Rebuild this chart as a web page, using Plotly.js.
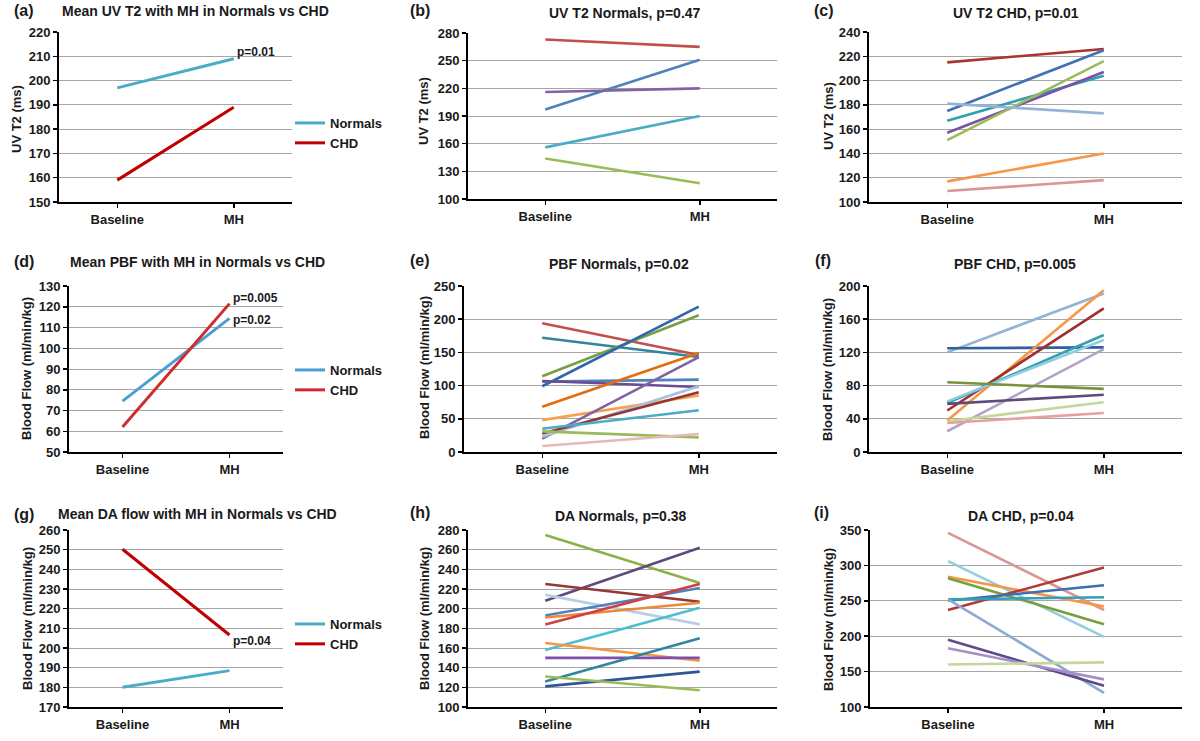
<!DOCTYPE html>
<html>
<head>
<meta charset="utf-8">
<script src="https://cdn.plot.ly/plotly-3.0.1.min.js"></script>
<style>html,body{margin:0;padding:0;background:#fff;}#chart{width:1200px;height:741px;}</style>
</head>
<body>
<div id="chart"></div>
<script>
// ---------- data ----------
const categories = ['Baseline', 'MH'];

// (a) Mean UV T2 (ms)
const aNormals = [197, 209];
const aCHD = [159, 189];
// (d) Mean PBF (ml/min/kg)
const dNormals = [74.5, 114.4];
const dCHD = [62, 121.5];
// (g) Mean DA flow (ml/min/kg)
const gNormals = [180, 188.5];
const gCHD = [250.2, 206.6];

// (b) UV T2 Normals
const bBaseline = [273, 197, 216, 156, 144];
const bMH       = [265, 251, 220, 190, 117];
// (c) UV T2 CHD
const cBaseline = [215, 175, 167, 157, 151, 181, 117, 109];
const cMH       = [226, 225, 204, 207, 216, 173, 140, 118];
// (e) PBF Normals
const eBaseline = [194, 172, 114, 99, 106, 107, 68, 48, 20, 23, 28, 35, 31, 9];
const eMH       = [146, 143, 206, 219, 109, 98, 149, 85, 143, 99, 90, 63, 22, 27];
// (f) PBF CHD
const fBaseline = [120, 125, 38, 50, 59, 61, 25, 84, 58, 37, 35];
const fMH       = [191, 126, 195, 173, 141, 135, 124, 76, 69, 60, 47];
// (h) DA Normals
const hBaseline = [275, 208, 225, 214, 193, 191, 184, 158, 165, 150, 126, 121, 131];
const hMH       = [226, 262, 207, 184, 221, 206, 225, 201, 147, 150, 170, 136, 117];
// (i) DA CHD
const iBaseline = [346, 306, 284, 282, 237, 250, 252, 252, 195, 183, 160];
const iMH       = [237, 199, 242, 217, 297, 272, 255, 120, 130, 139, 163];

// p-value labels
const aP = ['p=0.01'];
const dP = ['p=0.005', 'p=0.02'];
const gP = ['p=0.04'];

// ---------- styles ----------
const bColors = ['#C0504D', '#4F81BD', '#8064A2', '#4BACC6', '#9BBB59'];
const cColors = ['#A8332F', '#4272B4', '#2F9EB5', '#7A52A2', '#9BBB59', '#95B3D7', '#F79646', '#D99694'];
const eColors = ['#C0504D', '#31859C', '#77A040', '#2F66AE', '#4F81BD', '#6A4C93', '#E46C0A', '#F9A04E', '#8064A2', '#A6C0DE', '#943634', '#4BACC6', '#9BBB59', '#E6B9B8'];
const fColors = ['#95B3D7', '#2F5F9F', '#F79646', '#A0302E', '#31A0B5', '#93CDDD', '#B3A2C7', '#77933C', '#604A7B', '#C3D69B', '#E6A0A0'];
const hColors = ['#8DB04A', '#604A7B', '#953735', '#B9CDE5', '#4F81BD', '#E98A3A', '#D04040', '#4BC0D0', '#F79646', '#7F4FAF', '#31859C', '#2F5597', '#9BBB59'];
const iColors = ['#D99694', '#93CDDD', '#F79646', '#77A03C', '#B03A3A', '#3E6FB0', '#31A0B5', '#8EA9D3', '#5F4B8B', '#A391C4', '#C3D69B'];

const FONT = 'Liberation Sans, Arial, sans-serif';
const TXT = '#1a1a1a';
const W = 1200, H = 741;
const px2x = p => p / W;
const px2y = p => 1 - p / H;

// panel geometry (pixels): [x0, x1, yTop, yBottom]
const panels = {
  a: {box: [59, 292, 32, 202],   range: [150, 220], dtick: 10},
  b: {box: [468, 777, 33, 199],  range: [100, 280], dtick: 30},
  c: {box: [869, 1182, 32, 202], range: [100, 240], dtick: 20},
  d: {box: [69, 283, 286, 452],  range: [50, 130],  dtick: 10},
  e: {box: [464, 777, 286, 452], range: [0, 250],   dtick: 50},
  f: {box: [869, 1182, 286, 452],range: [0, 200],   dtick: 40},
  g: {box: [69, 283, 530, 707],  range: [170, 260], dtick: 10},
  h: {box: [468, 777, 530, 707], range: [100, 280], dtick: 20},
  i: {box: [870, 1182, 530, 707],range: [100, 350], dtick: 50}
};
const order = ['a','b','c','d','e','f','g','h','i'];

const layout = {
  width: W, height: H, autosize: false,
  margin: {l: 0, r: 0, t: 0, b: 0},
  paper_bgcolor: '#fff', plot_bgcolor: '#fff',
  font: {family: FONT, size: 13, color: TXT},
  annotations: [],
  hovermode: false
};

order.forEach((k, idx) => {
  const p = panels[k];
  const n = idx === 0 ? '' : String(idx + 1);
  layout['xaxis' + n] = {
    domain: [px2x(p.box[0]), px2x(p.box[1])],
    anchor: 'y' + n,
    type: 'category',
    range: [-0.5, 1.5],
    showline: true, linecolor: '#000', linewidth: 2,
    ticks: 'outside', ticklen: 4, tickwidth: 1.5, tickcolor: '#000',
    showgrid: false, zeroline: false,
    tickfont: {family: FONT, size: 13, weight: 'bold', color: TXT},
    fixedrange: true
  };
  layout['yaxis' + n] = {
    domain: [px2y(p.box[3]), px2y(p.box[2])],
    anchor: 'x' + n,
    range: p.range, dtick: p.dtick, tick0: p.range[0],
    showline: true, linecolor: '#000', linewidth: 2,
    ticks: 'outside', ticklen: 4, tickwidth: 1.5, tickcolor: '#000',
    showgrid: true, gridcolor: '#A6A6A6', gridwidth: 1,
    zeroline: false,
    tickfont: {family: FONT, size: 13, weight: 'bold', color: TXT},
    fixedrange: true
  };
});

const traces = [];
function addSeries(baseline, mh, colors, n, width) {
  for (let j = 0; j < baseline.length; j++) {
    traces.push({
      x: categories, y: [baseline[j], mh[j]],
      xaxis: 'x' + n, yaxis: 'y' + n,
      mode: 'lines', line: {color: colors[j], width: width},
      showlegend: false, hoverinfo: 'skip'
    });
  }
}
function addMean(normals, chd, n, colN, colC, legendId) {
  traces.push({x: categories, y: normals, xaxis: 'x' + n, yaxis: 'y' + n, mode: 'lines',
    name: 'Normals', line: {color: colN, width: 3}, legend: legendId, showlegend: true, hoverinfo: 'skip'});
  traces.push({x: categories, y: chd, xaxis: 'x' + n, yaxis: 'y' + n, mode: 'lines',
    name: 'CHD', line: {color: colC, width: 3}, legend: legendId, showlegend: true, hoverinfo: 'skip'});
}

addMean(aNormals, aCHD, '', '#4BACC6', '#C00000', 'legend');
addSeries(bBaseline, bMH, bColors, '2', 2.6);
addSeries(cBaseline, cMH, cColors, '3', 2.6);
addMean(dNormals, dCHD, '4', '#4A9FD2', '#D02C30', 'legend2');
addSeries(eBaseline, eMH, eColors, '5', 2.6);
addSeries(fBaseline, fMH, fColors, '6', 2.6);
addMean(gNormals, gCHD, '7', '#4BACC6', '#C00000', 'legend3');
addSeries(hBaseline, hMH, hColors, '8', 2.6);
addSeries(iBaseline, iMH, iColors, '9', 2.6);

function legendAt(xpx, ycpx) {
  return {x: px2x(xpx), y: px2y(ycpx), xanchor: 'left', yanchor: 'middle',
    bgcolor: 'rgba(0,0,0,0)', borderwidth: 0, tracegroupgap: 0, itemwidth: 30,
    font: {family: FONT, size: 13, weight: 'bold', color: TXT}};
}
layout.legend = legendAt(290, 133);
layout.legend2 = legendAt(290, 380);
layout.legend3 = legendAt(290, 634);

// panel titles and letters
const titles = {
  a: ['(a)', 'Mean UV T2 with MH in Normals vs CHD', 12, 10, 195, 11],
  b: ['(b)', 'UV T2 Normals, p=0.47', 408, 10, 625, 13],
  c: ['(c)', 'UV T2 CHD, p=0.01', 812, 10, 1016, 13],
  d: ['(d)', 'Mean PBF with MH in Normals vs CHD', 12, 261, 197, 262],
  e: ['(e)', 'PBF Normals, p=0.02', 408, 260, 619, 264],
  f: ['(f)', 'PBF CHD, p=0.005', 813, 260, 1015, 264],
  g: ['(g)', 'Mean DA flow with MH in Normals vs CHD', 12, 514, 197, 514],
  h: ['(h)', 'DA Normals, p=0.38', 408, 512, 621, 516],
  i: ['(i)', 'DA CHD, p=0.04', 812, 512, 1021, 516]
};
order.forEach(k => {
  const t = titles[k];
  layout.annotations.push({xref: 'paper', yref: 'paper', x: px2x(t[2]), y: px2y(t[3]),
    xanchor: 'left', yanchor: 'middle', text: t[0], showarrow: false,
    font: {family: FONT, size: 16, weight: 'bold', color: TXT}});
  layout.annotations.push({xref: 'paper', yref: 'paper', x: px2x(t[4]), y: px2y(t[5]),
    xanchor: 'center', yanchor: 'middle', text: t[1], showarrow: false,
    font: {family: FONT, size: 14, weight: 'bold', color: TXT}});
});

// y-axis titles
const yTitles = {
  a: ['UV T2 (ms)', 17, 119], b: ['UV T2 (ms)', 424, 111], c: ['UV T2 (ms)', 828, 116],
  d: ['Blood Flow (ml/min/kg)', 27, 369], e: ['Blood Flow (ml/min/kg)', 424, 368], f: ['Blood Flow (ml/min/kg)', 828, 369],
  g: ['Blood Flow (ml/min/kg)', 27, 619], h: ['Blood Flow (ml/min/kg)', 424, 619], i: ['Blood Flow (ml/min/kg)', 828, 619]
};
order.forEach(k => {
  const t = yTitles[k];
  layout.annotations.push({xref: 'paper', yref: 'paper', x: px2x(t[1]), y: px2y(t[2]),
    xanchor: 'center', yanchor: 'middle', text: t[0], textangle: -90, showarrow: false,
    font: {family: FONT, size: 13, weight: 'bold', color: TXT}});
});

// p-value annotations on mean panels
function pNote(txt, n, yv) {
  layout.annotations.push({xref: 'x' + n, yref: 'y' + n, x: 1, y: yv, xanchor: 'left', yanchor: 'middle',
    xshift: 1, text: txt, showarrow: false, font: {family: FONT, size: 12, weight: 'bold', color: TXT}});
}
pNote(aP[0], '', aNormals[1] + 2.8);
pNote(dP[0], '4', dCHD[1] + 2.7);
pNote(dP[1], '4', dNormals[1] - 0.8);
pNote(gP[0], '7', gCHD[1] - 3);

Plotly.newPlot('chart', traces, layout, {staticPlot: true, displayModeBar: false});
</script>
</body>
</html>
